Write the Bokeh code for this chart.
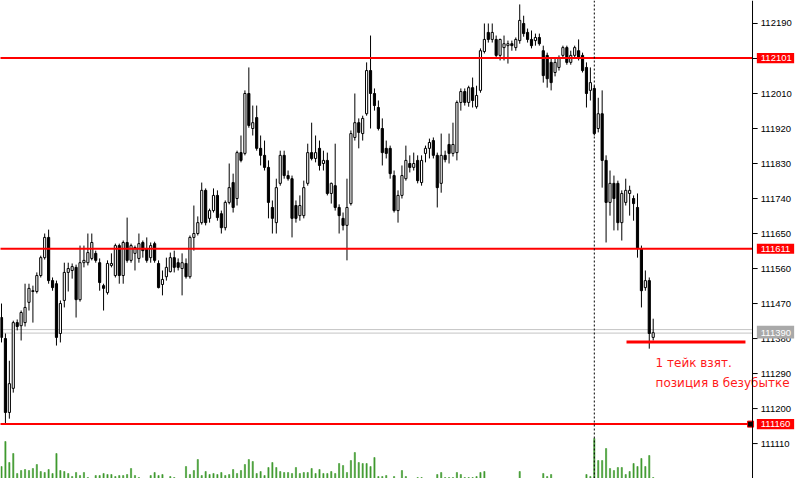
from bokeh.plotting import figure
from bokeh.models import Range1d, Span, ColumnDataSource
from bokeh.embed import file_html
from bokeh.resources import INLINE
from bokeh.core.properties import value

# ---------------- data ----------------
opens = [
    111434, 111380, 111190, 111252, 111421, 111413, 111421, 111473, 111503, 111501,
    111542, 111588, 111640, 111529, 111521, 111393, 111478, 111550, 111555, 111563,
    111480, 111575, 111575, 111586, 111599, 111575, 111516, 111498, 111568, 111542,
    111619, 111542, 111627, 111581, 111599, 111586, 111627, 111611, 111588, 111624,
    111573, 111519, 111539, 111552, 111588, 111575, 111560, 111573, 111539, 111640,
    111650, 111678, 111761, 111689, 111709, 111748, 111701, 111665, 111730, 111781,
    111740, 111858, 111856, 112010, 111920, 111948, 111869, 111851, 111820, 111717,
    111678, 111779, 111851, 111799, 111791, 111722, 111696, 111696, 111779, 111858,
    111843, 111869, 111830, 111838, 111753, 111773, 111717, 111689, 111671, 111727,
    111897, 111935, 111907, 111958, 112069, 112010, 111974, 111920, 111869, 111869,
    111799, 111709, 111748, 111791, 111830, 111820, 111838, 111781, 111856, 111869,
    111889, 111851, 111779, 111851, 111879, 111856, 111858, 111987, 112015, 111987,
    112025, 111976, 112018, 112118, 112167, 112149, 112149, 112108, 112128, 112133,
    112138, 112128, 112146, 112190, 112167, 112149, 112146, 112154, 112120, 112108,
    112090, 112064, 112077, 112108, 112128, 112090, 112108, 112120, 112108, 112077,
    112018, 112023, 111920, 111958, 111838, 111730, 111779, 111779, 111678, 111730,
    111753, 111740, 111717, 111611, 111511, 111529, 111383,
]
highs = [
    111470, 111393, 111323, 111426, 111429, 111452, 111521, 111521, 111516, 111550,
    111593, 111650, 111660, 111537, 111529, 111478, 111575, 111575, 111573, 111570,
    111619, 111619, 111650, 111650, 111606, 111586, 111521, 111581, 111599, 111624,
    111624, 111632, 111691, 111624, 111619, 111650, 111632, 111640, 111627, 111629,
    111581, 111555, 111588, 111601, 111606, 111586, 111599, 111586, 111645, 111722,
    111694, 111781, 111766, 111714, 111766, 111761, 111709, 111735, 111830, 111804,
    111863, 111902, 112018, 112077, 111979, 111979, 111902, 111889, 111838, 111735,
    111791, 111863, 111863, 111812, 111799, 111735, 111748, 111786, 111881, 111935,
    111902, 111889, 111863, 111858, 111781, 111881, 111725, 111704, 111791, 111915,
    112010, 111946, 111953, 112090, 112159, 112023, 111992, 111946, 111889, 111876,
    111812, 111761, 111825, 111876, 111851, 111858, 111851, 111851, 111876, 111894,
    111897, 111858, 111907, 111863, 111907, 111935, 111992, 112023, 112023, 112030,
    112051, 112030, 112126, 112190, 112190, 112190, 112159, 112151, 112159, 112146,
    112146, 112154, 112239, 112210, 112177, 112172, 112164, 112164, 112133, 112115,
    112100, 112100, 112108, 112133, 112133, 112120, 112133, 112149, 112115, 112090,
    112077, 112030, 111999, 112018, 111851, 111812, 111799, 111786, 111761, 111791,
    111773, 111748, 111753, 111619, 111555, 111537, 111431,
]
lows = [
    111370, 111160, 111174, 111241, 111401, 111375, 111411, 111452, 111421, 111496,
    111537, 111583, 111521, 111503, 111362, 111370, 111460, 111501, 111534, 111434,
    111475, 111563, 111568, 111581, 111575, 111503, 111452, 111493, 111563, 111537,
    111521, 111521, 111575, 111575, 111555, 111575, 111588, 111575, 111575, 111575,
    111509, 111491, 111529, 111550, 111550, 111555, 111491, 111534, 111534, 111606,
    111645, 111673, 111671, 111678, 111704, 111683, 111650, 111658, 111725, 111704,
    111722, 111833, 111851, 111922, 111902, 111863, 111825, 111812, 111689, 111650,
    111650, 111773, 111791, 111786, 111640, 111678, 111683, 111689, 111773, 111838,
    111833, 111812, 111812, 111748, 111727, 111709, 111650, 111658, 111581, 111722,
    111889, 111869, 111889, 111953, 111920, 111966, 111915, 111825, 111843, 111791,
    111704, 111678, 111740, 111786, 111807, 111812, 111779, 111773, 111833, 111843,
    111843, 111717, 111755, 111833, 111830, 111848, 111838, 111966, 111979, 111976,
    111974, 111971, 112012, 112113, 112141, 112141, 112100, 112095, 112095, 112087,
    112120, 112120, 112138, 112156, 112141, 112126, 112133, 112133, 112038, 112025,
    112018, 112054, 112069, 112100, 112084, 112084, 112100, 112095, 112064, 111974,
    111992, 111902, 111910, 111768, 111627, 111696, 111658, 111658, 111632, 111722,
    111696, 111683, 111588, 111460, 111503, 111354, 111375,
]
closes = [
    111383, 111190, 111264, 111421, 111411, 111447, 111460, 111509, 111501, 111542,
    111588, 111640, 111529, 111511, 111383, 111470, 111550, 111560, 111565, 111480,
    111575, 111581, 111601, 111627, 111581, 111524, 111509, 111573, 111573, 111619,
    111542, 111627, 111581, 111619, 111614, 111624, 111606, 111581, 111619, 111581,
    111511, 111532, 111563, 111588, 111563, 111563, 111575, 111539, 111640, 111650,
    111678, 111761, 111678, 111709, 111748, 111691, 111665, 111730, 111768, 111717,
    111858, 111838, 112010, 111928, 111935, 111869, 111851, 111820, 111730, 111689,
    111768, 111851, 111799, 111791, 111689, 111689, 111722, 111768, 111858, 111843,
    111858, 111825, 111838, 111753, 111779, 111717, 111696, 111671, 111717, 111907,
    111935, 111910, 111946, 112069, 112010, 111979, 111920, 111858, 111856, 111804,
    111709, 111748, 111799, 111838, 111820, 111830, 111786, 111838, 111869, 111884,
    111851, 111768, 111851, 111840, 111856, 111879, 111987, 112015, 111987, 112025,
    111992, 112005, 112120, 112149, 112149, 112167, 112108, 112149, 112138, 112138,
    112133, 112149, 112198, 112164, 112149, 112133, 112154, 112138, 112056, 112048,
    112038, 112090, 112100, 112128, 112090, 112108, 112128, 112102, 112069, 112010,
    112038, 111907, 111958, 111838, 111730, 111779, 111740, 111678, 111753, 111761,
    111761, 111727, 111611, 111503, 111529, 111393, 111395,
]
volumes = [
    190, 440, 230, 320, 120, 150, 160, 150, 170, 210,
    140, 130, 160, 120, 320, 150, 140, 120, 90, 130,
    100, 130, 80, 50, 100, 100, 120, 110, 110, 90,
    100, 100, 110, 170, 100, 80, 50, 50, 100, 130,
    100, 110, 50, 90, 80, 50, 50, 190, 110, 150,
    260, 100, 140, 110, 120, 110, 130, 100, 110, 160,
    120, 150, 210, 260, 240, 120, 140, 100, 180, 230,
    180, 140, 130, 130, 120, 180, 120, 130, 130, 170,
    120, 160, 120, 120, 140, 120, 220, 200, 130, 250,
    330, 230, 220, 220, 190, 280, 90, 90, 100, 50,
    90, 50, 150, 90, 50, 50, 80, 80, 50, 50,
    50, 110, 130, 80, 80, 80, 130, 110, 80, 80,
    80, 90, 130, 140, 50, 50, 50, 50, 50, 50,
    50, 50, 140, 50, 50, 50, 50, 50, 120, 90,
    110, 50, 50, 50, 50, 50, 50, 50, 50, 110,
    90, 470, 250, 250, 370, 170, 150, 180, 180, 110,
    140, 220, 190, 270, 190, 300, 80,
]
price_ticks = [111110, 111200, 111290, 111380, 111470, 111560, 111650,
               111740, 111830, 111920, 112010, 112100, 112190]
red_levels = [112101, 111611, 111160]
ask_price = 111403
bid_price = 111394
bid_label = "111390"
separator_bar = 151
note_lines = ["1 тейк взят.", "позиция в безубытке"]
note_prices = [111318, 111267]
note_x = 166.6
note_seg = (159.2, 189.5, 111371)

# price-scale geometry (in bar units, right of the last bar)
axis_x = 191.3
tick_end_x = 192.6
label_x = 193.4
box_left, box_right = 192.4, 201.9
box_half = 13          # price units, half height of a level box
gray_box = (111380, 111413)
handle_x = 190.8

# ---------------- build ----------------
n = len(closes)
idx = list(range(n))
src = ColumnDataSource(dict(
    x=idx, h=highs, l=lows,
    top=[max(o, c) for o, c in zip(opens, closes)],
    bot=[min(o, c) for o, c in zip(opens, closes)],
    fill=["white" if c >= o else "black" for o, c in zip(opens, closes)],
    vol=volumes,
))

p = figure(width=800, height=478,
           x_range=Range1d(-0.255, 203.52), y_range=Range1d(111020.2, 112249.1),
           output_backend="svg", toolbar_location=None,
           x_axis_location=None, y_axis_location=None, min_border=0)
p.extra_y_ranges = {"vol": Range1d(70, 4850)}
p.outline_line_color = None
p.grid.visible = False
p.background_fill_color = "white"
p.border_fill_color = "white"

# volumes
p.vbar(x="x", top="vol", bottom=0, width=0.3, source=src, y_range_name="vol",
       fill_color="#3f9a2f", line_color="#3f9a2f", line_width=0.6)

# grey bid / ask lines
p.segment(x0=[-1, -1], y0=[ask_price, bid_price], x1=[axis_x, axis_x],
          y1=[ask_price, bid_price], line_color="#c4c4c4", line_width=1)

# candles
p.segment(x0="x", y0="l", x1="x", y1="h", source=src, line_color="black", line_width=1)
p.vbar(x="x", top="top", bottom="bot", width=0.55, source=src,
       fill_color="fill", line_color="black", line_width=1)

# red levels
p.segment(x0=[-1] * 3, y0=red_levels, x1=[axis_x] * 3, y1=red_levels,
          line_color="#ff0000", line_width=2)

# dotted separator
p.add_layout(Span(location=separator_bar, dimension="height", line_color="black",
                  line_dash="2 2", line_width=1))

# note line
p.segment(x0=[note_seg[0]], y0=[note_seg[2]], x1=[note_seg[1]], y1=[note_seg[2]],
          line_color="#ff0000", line_width=3)

# handle square on the lowest red line
p.scatter(x=[handle_x], y=[red_levels[2]], marker="square", size=6,
          fill_color="black", line_color="#ff0000", line_width=1)

# price scale: axis line, ticks, labels
p.add_layout(Span(location=axis_x, dimension="height", line_color="black", line_width=1))
p.segment(x0=[axis_x] * len(price_ticks), y0=price_ticks,
          x1=[tick_end_x] * len(price_ticks), y1=price_ticks,
          line_color="black", line_width=1)
p.text(x=[label_x] * len(price_ticks), y=price_ticks, text=[str(t) for t in price_ticks],
       text_font=value("Liberation Sans"), text_font_size=value("9.5px"),
       text_baseline="middle", text_align="left", text_color="black")

# coloured level boxes
p.quad(left=[box_left] * 3, right=[box_right] * 3,
       bottom=[v - box_half for v in red_levels], top=[v + box_half for v in red_levels],
       fill_color="#ff0000", line_color=None)
p.text(x=[label_x] * 3, y=red_levels, text=[str(v) for v in red_levels],
       text_font=value("Liberation Sans"), text_font_size=value("9.5px"),
       text_baseline="middle", text_align="left", text_color="white")
p.quad(left=[box_left], right=[box_right], bottom=[gray_box[0]], top=[gray_box[1]],
       fill_color="#a9a9a9", line_color=None)
p.text(x=[label_x], y=[bid_price], text=[bid_label],
       text_font=value("Liberation Sans"), text_font_size=value("9.5px"),
       text_baseline="middle", text_align="left", text_color="white")

# annotation text
p.text(x=[note_x] * 2, y=note_prices, text=note_lines,
       text_font=value("DejaVu Sans"), text_font_size=value("12px"),
       text_baseline="middle", text_align="left", text_color="#ff1a1a")

open("out.html", "w").write(file_html(p, INLINE))
